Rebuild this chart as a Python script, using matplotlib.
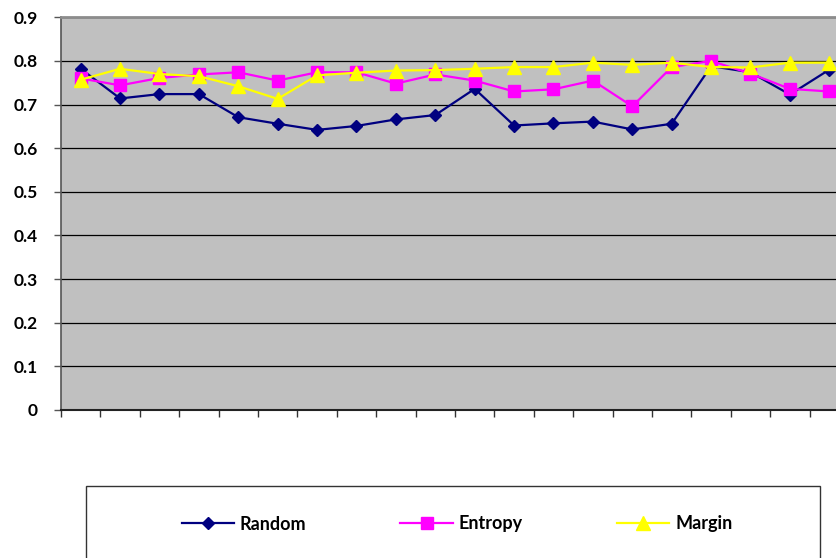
import matplotlib
matplotlib.use("Agg")
import matplotlib.pyplot as plt
from matplotlib.patches import Rectangle
from matplotlib.ticker import FixedLocator, NullLocator

plt.rcParams['font.family'] = ['Lato', 'DejaVu Sans']

# Accuracy per round for each query strategy
rounds = list(range(1, 21))
random_acc = [0.782, 0.714, 0.724, 0.724, 0.671, 0.656, 0.642, 0.651, 0.666, 0.676,
              0.736, 0.652, 0.657, 0.661, 0.643, 0.656, 0.788, 0.774, 0.723, 0.780]
entropy_acc = [0.760, 0.744, 0.761, 0.769, 0.774, 0.755, 0.774, 0.774, 0.748, 0.769,
               0.755, 0.730, 0.735, 0.755, 0.696, 0.786, 0.800, 0.771, 0.736, 0.730]
margin_acc = [0.757, 0.782, 0.770, 0.765, 0.742, 0.713, 0.767, 0.773, 0.778, 0.779,
              0.782, 0.786, 0.786, 0.796, 0.791, 0.796, 0.786, 0.785, 0.796, 0.796]
y_ticks = [0, 0.1, 0.2, 0.3, 0.4, 0.5, 0.6, 0.7, 0.8, 0.9]
y_tick_labels = ["0", "0.1", "0.2", "0.3", "0.4", "0.5", "0.6", "0.7", "0.8", "0.9"]

W, H = 837, 558
fig = plt.figure(figsize=(W / 100, H / 100), dpi=100)
ax = fig.add_axes([61 / W, 1 - 410 / H, 788 / W, (410 - 17.3) / H])
ax.set_facecolor('#C0C0C0')

x = list(range(len(rounds)))
ax.plot(x, random_acc, color='#000080', lw=1.6, marker='D', ms=6.5,
        label='Random', zorder=3)
ax.plot(x, entropy_acc, color='#FF00FF', lw=1.6, marker='s', ms=8.5,
        label='Entropy', zorder=4)
ax.plot(x, margin_acc, color='#FFFF00', lw=1.6, marker='^', ms=9.5,
        label='Margin', zorder=5)

ax.set_xlim(-0.5, len(rounds) - 0.5)
ax.set_ylim(0, 0.9)
ax.set_yticks(y_ticks)
ax.set_yticklabels(y_tick_labels, fontsize=12.5, fontweight='bold')
ax.yaxis.grid(True, color='black', lw=0.9)
ax.set_axisbelow(True)

ax.xaxis.set_major_locator(NullLocator())
ax.xaxis.set_minor_locator(FixedLocator([i - 0.5 for i in range(len(rounds) + 1)]))
ax.tick_params(axis='x', which='minor', length=5, width=1, color='#333333', direction='out')
ax.tick_params(axis='y', length=5, width=1, color='#555555', pad=12)

ax.spines['right'].set_visible(False)
ax.spines['top'].set_color('#8C8C8C')
ax.spines['top'].set_linewidth(2)
ax.spines['left'].set_color('#555555')
ax.spines['left'].set_linewidth(1.2)
ax.spines['bottom'].set_color('#222222')
ax.spines['bottom'].set_linewidth(1.5)

# Legend box along the bottom
fig.patches.append(Rectangle((86.5 / W, -0.05), (819.6 - 86.5) / W, (558 - 485.7) / H + 0.05,
                             transform=fig.transFigure, facecolor='white',
                             edgecolor='#333333', lw=1, zorder=0))
leg = fig.legend(loc='center', bbox_to_anchor=(457 / W, 1 - 524 / H), ncol=3,
                 frameon=False, prop={'size': 13, 'weight': 'bold'},
                 handlelength=2.9, handletextpad=0.33, columnspacing=5.2)

fig.savefig('out.png', dpi=100)
